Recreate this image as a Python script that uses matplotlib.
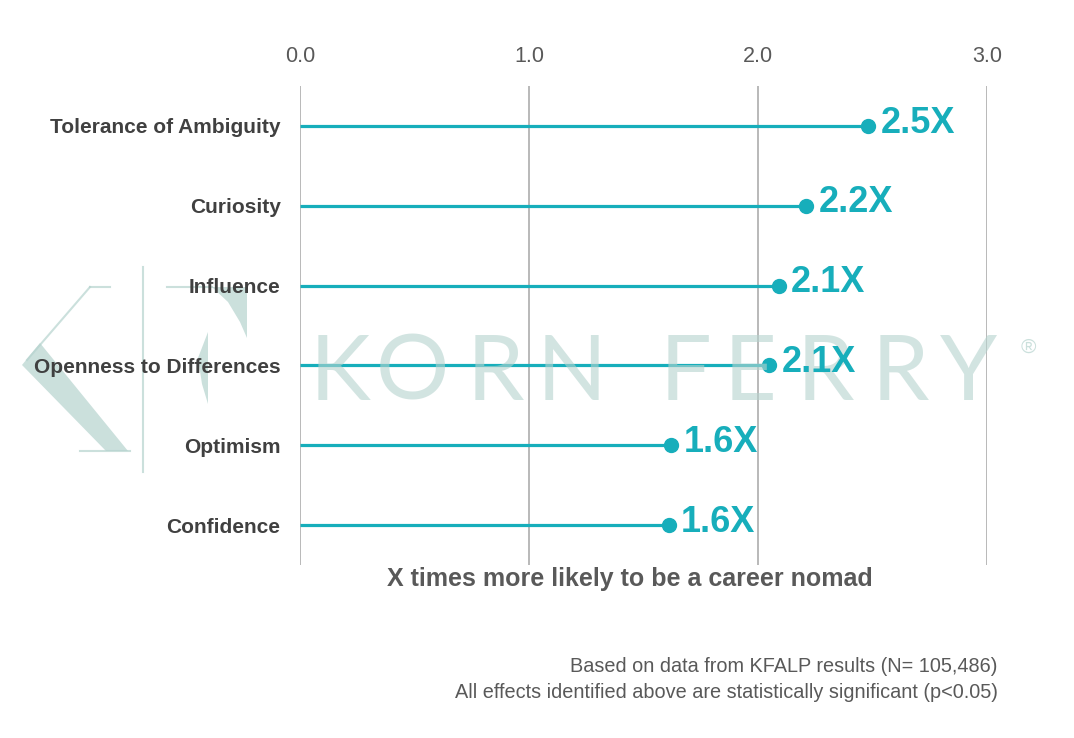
import matplotlib
matplotlib.use("Agg")
import matplotlib.pyplot as plt
from matplotlib.patches import Polygon

categories = ["Tolerance of Ambiguity", "Curiosity", "Influence",
              "Openness to Differences", "Optimism", "Confidence"]
values = [2.48, 2.21, 2.09, 2.05, 1.62, 1.61]
value_labels = ["2.5X", "2.2X", "2.1X", "2.1X", "1.6X", "1.6X"]
x_ticks = [0.0, 1.0, 2.0, 3.0]
x_tick_labels = ["0.0", "1.0", "2.0", "3.0"]
watermark_letters = ["K", "O", "R", "N", "F", "E", "R", "R", "Y"]
watermark_x_px = [340, 412, 495, 572, 685, 750, 825, 900, 968]

W, H = 1074, 738
TEAL = "#17AEBB"
DARK = "#404040"
GRAY = "#595959"
WM = "#b5d3ce"

plt.rcParams['font.family'] = ['Liberation Sans', 'DejaVu Sans']
fig = plt.figure(figsize=(W / 100, H / 100), dpi=100)
fig.patch.set_facecolor("white")

ax = fig.add_axes([300 / W, 1 - 565 / H, (987 - 300) / W, 479 / H])
ax.set_xlim(0, 3)
ax.set_ylim(len(categories) - 0.5, -0.5)
ax.set_facecolor("none")
for s in ax.spines.values():
    s.set_visible(False)

for xt in x_ticks:
    ax.axvline(xt, color="#a6a6a6", lw=1.1, zorder=1)

ys = list(range(len(categories)))
ax.hlines(ys, 0, values, color=TEAL, lw=2.3, zorder=3)
ax.plot(values, ys, "o", color=TEAL, ms=10, zorder=4)
for v, y, lab in zip(values, ys, value_labels):
    ax.annotate(lab, (v, y), xytext=(9, 2), textcoords="offset points",
                ha="left", va="center", color=TEAL, fontsize=26,
                fontweight="bold", zorder=6)

ax.xaxis.tick_top()
ax.set_xticks(x_ticks)
ax.set_xticklabels(x_tick_labels, color=GRAY, fontsize=15.5)
ax.tick_params(axis="x", length=0, pad=14)
ax.set_yticks(ys)
ax.set_yticklabels(categories, color=DARK, fontsize=15, fontweight="bold")
ax.tick_params(axis="y", length=0, pad=14)

fig.text(630 / W, 1 - 579 / H, "X times more likely to be a career nomad",
         ha="center", va="center", color=GRAY, fontsize=18, fontweight="bold")

fig.text(998 / W, 1 - 667 / H, "Based on data from KFALP results (N= 105,486)",
         ha="right", va="center", color=GRAY, fontsize=14.3)
fig.text(998 / W, 1 - 693 / H,
         "All effects identified above are statistically significant (p<0.05)",
         ha="right", va="center", color=GRAY, fontsize=14.3)

# Watermark text (above lines, below value labels)
for letter, xp in zip(watermark_letters, watermark_x_px):
    ax.text(xp / W, 1 - 374 / H, letter, transform=fig.transFigure,
            ha="center", va="center", color=WM, alpha=0.6, fontsize=66,
            fontweight="normal", family=["Lato", "DejaVu Sans"], zorder=5,
            clip_on=False)
ax.text(1028 / W, 1 - 347 / H, "\u00ae", transform=fig.transFigure,
        ha="center", va="center", color=WM, alpha=0.7, fontsize=15, zorder=5,
        clip_on=False)


def px(pts):
    return [(x / W, 1 - y / H) for x, y in pts]

# Watermark logo (decorative, behind labels)
logo = [
    [(22, 365), (40, 343), (128, 451), (106, 451)],
    [(212, 287), (247, 287), (247, 338), (240, 322), (228, 302)],
    [(208, 332), (208, 404), (202, 384), (198, 358)],
]
for poly in logo:
    fig.patches.append(Polygon(px(poly), closed=True, transform=fig.transFigure,
                               facecolor=WM, edgecolor="none", alpha=0.7,
                               zorder=-1))
logo_lines = [
    [(90, 287), (110, 287)],
    [(90, 287), (27, 360)],
    [(143, 267), (143, 472)],
    [(167, 287), (212, 287)],
    [(80, 451), (130, 451)],
]
for ln in logo_lines:
    pts = px(ln)
    fig.add_artist(plt.Line2D([pts[0][0], pts[1][0]], [pts[0][1], pts[1][1]],
                              transform=fig.transFigure, color=WM, lw=1.5,
                              alpha=0.7, zorder=-1))

fig.savefig("out.png", dpi=100, facecolor="white")
